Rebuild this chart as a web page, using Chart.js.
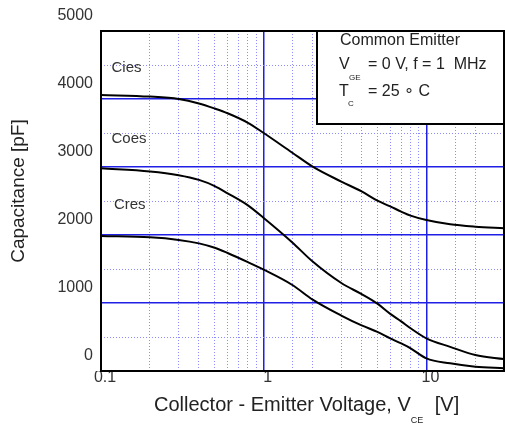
<!DOCTYPE html>
<html>
<head>
<meta charset="utf-8">
<script src="https://cdn.jsdelivr.net/npm/chart.js@4"></script>
<style>
  body { margin: 0; background: #fff; }
  #wrap { width: 505px; height: 424px; }
</style>
</head>
<body>
<div id="wrap"><canvas id="capChart" width="505" height="424"></canvas></div>
<script>
// Collector-emitter voltage [V]
const vce = [0.1, 0.2, 0.3, 0.4, 0.5, 0.6, 0.8, 1, 1.5, 2, 3, 4, 5, 6, 7, 8, 10, 14, 20, 30];
// Capacitances [pF]
const cies = [4060, 4035, 4000, 3935, 3860, 3790, 3650, 3500, 3210, 3005, 2785, 2640, 2505, 2420, 2345, 2285, 2220, 2157, 2122, 2098];
const coes = [2980, 2935, 2880, 2810, 2720, 2613, 2435, 2250, 1890, 1610, 1294, 1130, 990, 840, 730, 628, 480, 355, 235, 176];
const cres = [1985, 1966, 1928, 1877, 1812, 1735, 1600, 1490, 1265, 1050, 815, 670, 575, 480, 405, 334, 186, 113, 63, 42];

const seriesNames = ["Cies", "Coes", "Cres"];
const xTickLabels = [0.1, 1, 10];
const yTickLabels = [0, 1000, 2000, 3000, 4000, 5000];

const FONT = "'Liberation Sans', Arial, sans-serif";
const MAJOR = "#1f1fe6";
const MINOR = "#8c8cff";

function toPoints(ys) {
    return vce.map((x, i) => ({ x: x, y: ys[i] }));
}

function isDecade(v) {
    const l = Math.log10(v);
    return Math.abs(l - Math.round(l)) < 1e-6;
}

// titles, curve names, condition box and frame
const decorPlugin = {
    id: "decor",
    afterDatasetsDraw(chart) {
        const ctx = chart.ctx;
        const a = chart.chartArea;
        const xs = chart.scales.x;
        const ys = chart.scales.y;
        ctx.save();

        // curve names
        ctx.fillStyle = "#333";
        ctx.font = "15px " + FONT;
        ctx.textBaseline = "middle";
        ctx.textAlign = "left";
        const namePos = [[0.116, 4456], [0.116, 3412], [0.12, 2441]];
        seriesNames.forEach((n, i) => {
            ctx.fillText(n, xs.getPixelForValue(namePos[i][0]), ys.getPixelForValue(namePos[i][1]));
        });

        // conditions box
        const bx = 317, by = a.top, bw = a.right - 317, bh = 124 - a.top;
        ctx.fillStyle = "#fff";
        ctx.fillRect(bx, by, bw, bh);
        ctx.strokeStyle = "#000";
        ctx.lineWidth = 2;
        ctx.strokeRect(bx, by, bw, bh);

        ctx.fillStyle = "#222";
        ctx.textBaseline = "alphabetic";
        ctx.font = "16px " + FONT;
        ctx.fillText("Common Emitter", 340, 45);
        ctx.fillText("V", 339, 69);
        ctx.fillText("= 0 V, f = 1  MHz", 368, 69);
        ctx.fillText("T", 339, 96);
        ctx.fillText("= 25 \u2218 C", 368, 96);
        ctx.font = "8px " + FONT;
        ctx.fillText("GE", 349, 80);
        ctx.fillText("C", 348, 106);

        // plot frame
        ctx.lineWidth = 2;
        ctx.strokeStyle = "#000";
        ctx.strokeRect(a.left, a.top, a.right - a.left, a.bottom - a.top);

        // axis titles
        ctx.fillStyle = "#222";
        ctx.font = "20px " + FONT;
        const xt = "Collector - Emitter Voltage, V";
        ctx.fillText(xt, 154, 411);
        const w = ctx.measureText(xt).width;
        ctx.fillText("[V]", 154 + w + 24, 411);
        ctx.font = "9px " + FONT;
        ctx.fillText("CE", 154 + w, 423);

        ctx.translate(19, 191);
        ctx.rotate(-Math.PI / 2);
        ctx.font = "19px " + FONT;
        ctx.textAlign = "center";
        ctx.textBaseline = "middle";
        ctx.fillText("Capacitance [pF]", 0, 0);
        ctx.restore();
    }
};

const lineStyle = {
    borderColor: "#000",
    borderWidth: 2,
    pointRadius: 0,
    fill: false,
    cubicInterpolationMode: "monotone"
};

new Chart(document.getElementById("capChart"), {
    type: "line",
    data: {
        datasets: [
            Object.assign({ label: seriesNames[0], data: toPoints(cies) }, lineStyle),
            Object.assign({ label: seriesNames[1], data: toPoints(coes) }, lineStyle),
            Object.assign({ label: seriesNames[2], data: toPoints(cres) }, lineStyle)
        ]
    },
    options: {
        responsive: false,
        animation: false,
        layout: { padding: { top: 31, right: 1, left: 0, bottom: 0 } },
        plugins: { legend: { display: false }, tooltip: { enabled: false } },
        scales: {
            x: {
                type: "logarithmic",
                min: 0.1,
                max: 30,
                afterFit(s) { s.height = 53; },
                ticks: {
                    autoSkip: false,
                    maxRotation: 0,
                    padding: -3,
                    labelOffset: 4,
                    color: "#333",
                    font: { family: FONT, size: 16 },
                    callback: (v) => xTickLabels.some(t => Math.abs(t - v) < 1e-9) ? String(v) : ""
                },
                grid: {
                    drawTicks: false,
                    color: (c) => {
                        const v = c.tick ? c.tick.value : 0;
                        if (v <= 0.1 + 1e-9 || v >= 30 - 1e-9) return "rgba(0,0,0,0)";
                        return isDecade(v) ? MAJOR : MINOR;
                    },
                    lineWidth: (c) => (c.tick && isDecade(c.tick.value) ? 1.5 : 1)
                },
                border: {
                    display: false,
                    dash: (c) => (c.tick && isDecade(c.tick.value) ? [] : [1, 2])
                }
            },
            y: {
                min: 0,
                max: 5000,
                afterFit(s) { s.width = 101; },
                ticks: {
                    stepSize: 500,
                    padding: 8,
                    labelOffset: -15,
                    color: "#333",
                    font: { family: FONT, size: 16 },
                    callback: (v) => yTickLabels.includes(v) ? String(v) : ""
                },
                grid: {
                    drawTicks: false,
                    color: (c) => {
                        const v = c.tick ? c.tick.value : 0;
                        if (v === 0 || v === 5000) return "rgba(0,0,0,0)";
                        return v % 1000 === 0 ? MAJOR : MINOR;
                    },
                    lineWidth: (c) => (c.tick && c.tick.value % 1000 === 0 ? 1.5 : 1)
                },
                border: {
                    display: false,
                    dash: (c) => (c.tick && c.tick.value % 1000 === 0 ? [] : [1, 2])
                }
            }
        }
    },
    plugins: [decorPlugin]
});
</script>
</body>
</html>
